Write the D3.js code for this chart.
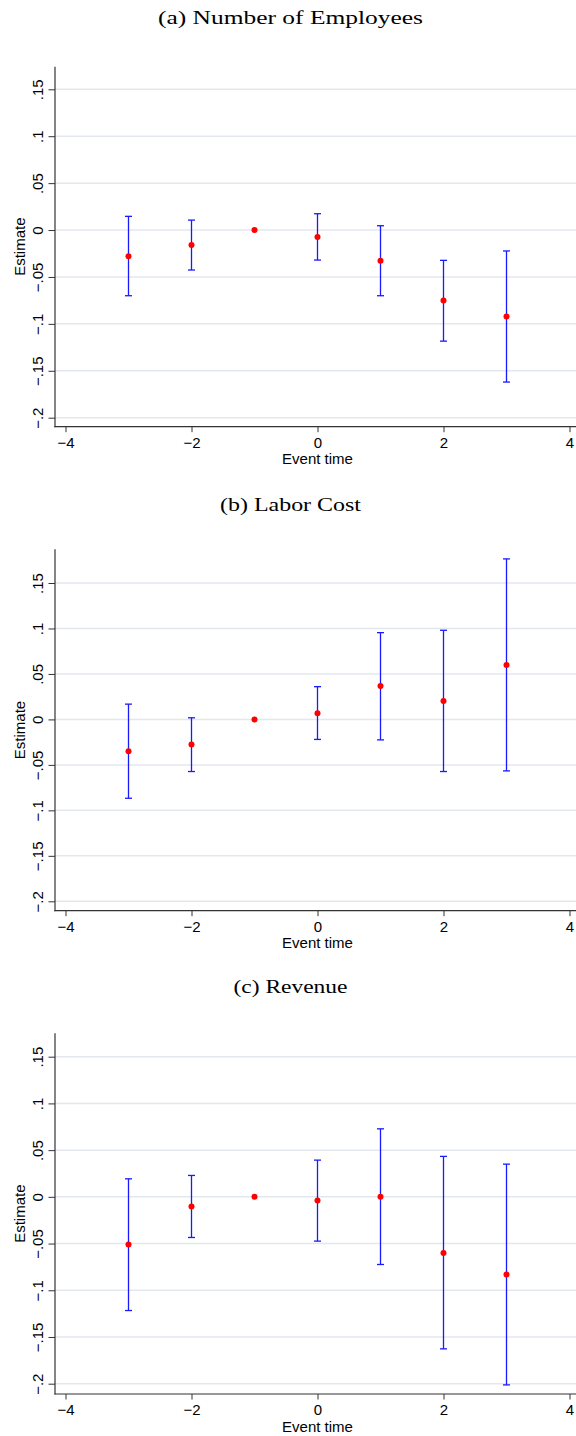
<!DOCTYPE html>
<html>
<head>
<meta charset="utf-8">
<script src="https://cdn.jsdelivr.net/npm/d3@7"></script>
<style>
  html, body { margin: 0; padding: 0; background: #fff; }
  svg { display: block; }
</style>
</head>
<body>
<script>
// ---------------- data ----------------
const eventTime = [-3, -2, -1, 0, 1, 2, 3];

const titles = ["(a) Number of Employees", "(b) Labor Cost", "(c) Revenue"];

const employeesEst = [-0.028, -0.016, 0, -0.0074, -0.0326, -0.0752, -0.0922];
const employeesLo  = [-0.070, -0.0426, null, -0.032, -0.070, -0.1184, -0.162];
const employeesHi  = [0.0146, 0.0106, null, 0.0174, 0.0046, -0.0323, -0.0223];

const laborEst = [-0.0349, -0.0275, 0, 0.0069, 0.0367, 0.0202, 0.0598];
const laborLo  = [-0.0867, -0.0573, null, -0.022, -0.0225, -0.0573, -0.0566];
const laborHi  = [0.0168, 0.0018, null, 0.036, 0.0954, 0.098, 0.1765];

const revenueEst = [-0.051, -0.0103, 0, -0.0039, 0.0, -0.060, -0.0831];
const revenueLo  = [-0.1217, -0.0435, null, -0.0474, -0.0724, -0.1627, -0.2013];
const revenueHi  = [0.0193, 0.0229, null, 0.0393, 0.0728, 0.0433, 0.035];

const yTicks = [0.15, 0.1, 0.05, 0, -0.05, -0.1, -0.15, -0.2];
const yTickLabels = [".15", ".1", ".05", "0", "\u2212.05", "\u2212.1", "\u2212.15", "\u2212.2"];
const xTicks = [-4, -2, 0, 2, 4];
const xTickLabels = ["\u22124", "\u22122", "0", "2", "4"];
const xTitle = "Event time";
const yTitle = "Estimate";

// ---------------- layout ----------------
const W = 576, H = 1436;
const axisX = 55, rightEdge = 580;
const panels = [
  { est: employeesEst, lo: employeesLo, hi: employeesHi, titleY: 24.3, titleW: 265, top: 66.7, bottom: 426.7, yHi: 89.3, yLo: 417.7 },
  { est: laborEst, lo: laborLo, hi: laborHi, titleY: 510.7, titleW: 141, top: 549.3, bottom: 910.7, yHi: 583, yLo: 901.3 },
  { est: revenueEst, lo: revenueLo, hi: revenueHi, titleY: 993.3, titleW: 114, top: 1033.3, bottom: 1394, yHi: 1056.7, yLo: 1383.7 }
];

const svg = d3.select("body").append("svg")
  .attr("width", W).attr("height", H)
  .attr("viewBox", `0 0 ${W} ${H}`);

const x = d3.scaleLinear().domain([-4, 4]).range([65.5, 569.5]);
const sans = "'Liberation Sans', Arial, Helvetica, sans-serif";
const axisColor = "#333";

panels.forEach((p, pi) => {
  const y = d3.scaleLinear().domain([-0.2, 0.15]).range([p.yLo, p.yHi]);
  const g = svg.append("g");

  // title
  g.append("text")
    .attr("x", 290.5).attr("y", p.titleY)
    .attr("text-anchor", "middle")
    .attr("font-family", "'Liberation Serif', 'Times New Roman', serif")
    .attr("font-size", 19.5)
    .attr("textLength", p.titleW)
    .attr("lengthAdjust", "spacingAndGlyphs")
    .attr("fill", "#000")
    .text(titles[pi]);

  // gridlines
  g.append("g").selectAll("line").data(yTicks).join("line")
    .attr("x1", axisX).attr("x2", W)
    .attr("y1", d => y(d)).attr("y2", d => y(d))
    .attr("stroke", "#e3e7f0").attr("stroke-width", 1.5);

  // y axis
  const yAxis = g.append("g").attr("transform", `translate(${axisX},0)`)
    .call(d3.axisLeft(y).tickValues(yTicks).tickSize(6.5).tickFormat((d, i) => yTickLabels[i]));
  yAxis.select(".domain").remove();
  yAxis.selectAll(".tick line").attr("stroke", axisColor).attr("stroke-width", 1);
  yAxis.selectAll(".tick text")
    .attr("x", null).attr("dy", null)
    .attr("transform", "translate(-12,0) rotate(-90)")
    .attr("text-anchor", "middle")
    .attr("font-family", sans).attr("font-size", 15).attr("fill", "#000");
  g.append("line")
    .attr("x1", axisX).attr("x2", axisX).attr("y1", p.top).attr("y2", p.bottom + 0.5)
    .attr("stroke", axisColor).attr("stroke-width", 1.2);

  // x axis
  const xAxis = g.append("g").attr("transform", `translate(0,${p.bottom})`)
    .call(d3.axisBottom(x).tickValues(xTicks).tickSize(5.5).tickFormat((d, i) => xTickLabels[i]));
  xAxis.select(".domain").remove();
  xAxis.selectAll(".tick line").attr("stroke", axisColor).attr("stroke-width", 1);
  xAxis.selectAll(".tick text")
    .attr("y", 21).attr("dy", null)
    .attr("font-family", sans).attr("font-size", 15).attr("fill", "#000");
  g.append("line")
    .attr("x1", axisX - 0.6).attr("x2", rightEdge).attr("y1", p.bottom).attr("y2", p.bottom)
    .attr("stroke", axisColor).attr("stroke-width", 1.2);

  // axis titles
  g.append("text")
    .attr("x", x(0)).attr("y", p.bottom + 37.5)
    .attr("text-anchor", "middle")
    .attr("font-family", sans).attr("font-size", 15).attr("fill", "#000")
    .text(xTitle);
  g.append("text")
    .attr("transform", `translate(25,${(p.top + p.bottom) / 2}) rotate(-90)`)
    .attr("text-anchor", "middle")
    .attr("font-family", sans).attr("font-size", 15).attr("fill", "#000")
    .text(yTitle);

  // error bars
  const rows = eventTime.map((t, i) => ({ t, est: p.est[i], lo: p.lo[i], hi: p.hi[i] }));
  const ci = rows.filter(r => r.lo !== null && r.hi !== null);
  const eb = g.append("g").attr("stroke", "#1a1aff").attr("stroke-width", 1.3);
  eb.selectAll("line.v").data(ci).join("line").attr("class", "v")
    .attr("x1", d => x(d.t)).attr("x2", d => x(d.t))
    .attr("y1", d => y(d.lo)).attr("y2", d => y(d.hi));
  eb.selectAll("line.ct").data(ci).join("line").attr("class", "ct")
    .attr("x1", d => x(d.t) - 3.5).attr("x2", d => x(d.t) + 3.5)
    .attr("y1", d => y(d.hi)).attr("y2", d => y(d.hi));
  eb.selectAll("line.cb").data(ci).join("line").attr("class", "cb")
    .attr("x1", d => x(d.t) - 3.5).attr("x2", d => x(d.t) + 3.5)
    .attr("y1", d => y(d.lo)).attr("y2", d => y(d.lo));

  // points
  g.append("g").selectAll("circle").data(rows).join("circle")
    .attr("cx", d => x(d.t)).attr("cy", d => y(d.est))
    .attr("r", 3).attr("fill", "#ff0000");
});
</script>
</body>
</html>
